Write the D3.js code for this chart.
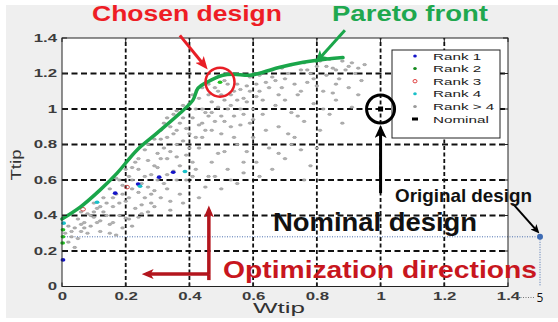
<!DOCTYPE html>
<html>
<head>
<meta charset="utf-8">
<script src="https://cdn.jsdelivr.net/npm/d3@7"></script>
<style>
  body { margin: 0; background: #fff; }
</style>
</head>
<body>
<div id="chart"></div>
<script>
// tick values
const xTicks = [0, 0.2, 0.4, 0.6, 0.8, 1, 1.2, 1.4];
const yTicks = [0, 0.2, 0.4, 0.6, 0.8, 1, 1.2, 1.4];

// pareto front (Wtip, Ttip)
const paretoW = [0, 0.057, 0.119, 0.173, 0.235, 0.298, 0.37, 0.411, 0.427, 0.455, 0.505, 0.537, 0.59, 0.631, 0.684, 0.757, 0.80, 0.882];
const paretoT = [0.38, 0.447, 0.543, 0.639, 0.768, 0.864, 0.976, 1.05, 1.117, 1.151, 1.19, 1.196, 1.19, 1.207, 1.235, 1.263, 1.275, 1.29];

// population, rank > 4
const rankOther = [
  [0.01,0.30],[0.02,0.34],[0.03,0.28],[0.02,0.25],[0.04,0.33],[0.05,0.38],[0.06,0.31],[0.07,0.36],
  [0.08,0.41],[0.09,0.34],[0.10,0.39],[0.11,0.44],[0.12,0.37],[0.13,0.42],[0.14,0.47],[0.05,0.27],
  [0.08,0.30],[0.12,0.31],[0.15,0.35],[0.04,0.22],[0.06,0.42],[0.10,0.47],[0.13,0.50],
  [0.16,0.45],[0.17,0.52],[0.18,0.40],[0.19,0.57],[0.20,0.48],[0.21,0.62],[0.22,0.55],[0.23,0.44],
  [0.24,0.66],[0.25,0.58],[0.26,0.50],[0.27,0.71],[0.28,0.63],[0.29,0.54],[0.30,0.75],[0.18,0.60],
  [0.21,0.38],[0.25,0.41],[0.20,0.66],[0.28,0.47],[0.26,0.77],[0.23,0.70],[0.19,0.33],[0.17,0.29],[0.30,0.67],
  [0.31,0.83],[0.32,0.58],[0.33,0.72],[0.34,0.90],[0.35,0.65],[0.36,0.80],[0.37,0.52],[0.38,0.95],
  [0.39,0.74],[0.40,0.86],[0.41,0.62],[0.42,1.00],[0.43,0.78],[0.44,0.92],[0.45,0.56],[0.32,0.92],
  [0.35,0.97],[0.40,1.03],[0.43,1.06],[0.37,0.68],[0.34,0.48],[0.41,0.70],[0.44,0.84],[0.36,0.88],
  [0.39,0.60],[0.33,0.63],[0.45,0.98],
  [0.46,1.08],[0.47,0.88],[0.48,1.12],[0.49,0.75],[0.50,0.96],[0.51,1.05],[0.52,0.66],[0.53,0.90],
  [0.54,1.10],[0.55,0.80],[0.56,1.00],[0.57,0.70],[0.58,1.13],[0.59,0.92],[0.60,0.84],[0.61,1.07],
  [0.62,0.62],[0.63,0.97],[0.64,1.15],[0.65,0.78],[0.47,0.98],[0.50,0.86],[0.53,1.02],[0.56,0.91],
  [0.60,1.00],[0.62,1.10],[0.48,0.62],[0.55,0.58],[0.58,0.76],[0.64,0.88],[0.52,1.14],[0.57,1.06],
  [0.66,1.18],[0.67,1.02],[0.68,0.90],[0.69,1.12],[0.70,0.72],[0.71,1.20],[0.72,0.98],[0.73,0.84],
  [0.74,1.08],[0.75,1.22],[0.76,0.93],[0.77,1.15],[0.78,0.68],[0.79,1.03],[0.80,1.24],[0.81,0.88],
  [0.82,1.10],[0.83,1.19],[0.84,0.97],[0.85,1.23],[0.86,1.05],[0.87,1.17],[0.88,0.92],[0.89,1.22],
  [0.90,1.12],[0.91,1.01],[0.92,1.20],[0.93,1.08],[0.70,1.05],[0.74,0.96],[0.78,1.20],[0.82,1.00],
  [0.86,1.14],[0.72,0.80],[0.76,0.60],[0.80,0.78],[0.94,1.16],[0.95,1.25],
  [0.15,0.55],[0.17,0.61],[0.22,0.67],[0.24,0.72],[0.27,0.80],[0.29,0.83],[0.31,0.88],[0.33,0.95],
  [0.36,0.99],[0.38,1.02],[0.41,1.08],[0.44,1.12],[0.46,1.14],[0.49,1.10],[0.51,1.16],[0.55,1.14],
  [0.59,1.18],[0.62,1.19],[0.66,1.22],[0.69,1.23],[0.72,1.25],[0.76,1.26],[0.81,1.27],[0.84,1.28],
  [0.88,1.27],[0.91,1.26],
  [0.15,0.30],[0.20,0.385],[0.24,0.39],[0.29,0.45],[0.34,0.43],[0.16,0.36],[0.22,0.34],[0.27,0.42],
  [0.31,0.50],[0.38,0.47],[0.43,0.50],[0.46,0.62],[0.50,0.55],[0.53,0.60],[0.57,0.64],[0.61,0.70],
  [0.66,0.66],[0.68,0.75],[0.71,0.86],[0.75,0.77],
  [0.06,0.35],[0.09,0.40],[0.11,0.36],[0.14,0.40],[0.16,0.50],[0.18,0.47],[0.19,0.52],[0.21,0.50],
  [0.22,0.60],[0.24,0.53],[0.26,0.62],[0.27,0.56],[0.29,0.68],[0.30,0.60],[0.31,0.72],[0.32,0.78],
  [0.33,0.84],[0.34,0.76],[0.35,0.86],[0.36,0.73],[0.37,0.92],[0.38,0.82],[0.39,0.89],[0.40,0.78],
  [0.41,0.95],[0.42,0.84],[0.43,0.91],[0.44,1.00],[0.45,0.88],[0.46,0.96],[0.47,1.04],[0.48,0.93],
  [0.49,1.01],[0.50,1.08],[0.51,0.93],[0.52,1.00],[0.53,1.08],[0.54,0.96],[0.55,1.05],[0.56,1.11],
  [0.57,0.97],[0.58,1.04],[0.59,1.10],[0.60,0.94],[0.61,1.14],[0.63,1.05],[0.65,1.12],[0.67,1.16],
  [0.68,1.08],[0.70,1.17],[0.73,1.14],[0.75,1.10],[0.77,1.22],[0.79,1.17],[0.83,1.24],[0.86,1.22],
  [0.90,1.24],[0.93,1.23],[0.80,1.13],[0.85,1.09],[0.25,0.46],[0.28,0.52],[0.33,0.55],[0.36,0.60],
  [0.42,0.66],[0.47,0.70],[0.51,0.76],[0.54,0.84],[0.03,0.31],[0.07,0.33],[0.10,0.42],[0.12,0.45]
];
const rank1 = [[0.003,0.15],[0.167,0.526],[0.239,0.577],[0.305,0.616],[0.349,0.644]];
const rank2 = [[0.003,0.32],[0.003,0.28],[0.002,0.245],[0.496,1.151]];
const rank3 = [[0.066,0.435],[0.204,0.56]];
const rank4 = [[0.005,0.357],[0.11,0.475],[0.245,0.565],[0.386,0.648]];

const nominal = [1, 1];
const chosen = [0.496, 1.151];
const original = [5, 0.28];

const legendLabels = ["Rank 1", "Rank 2", "Rank 3", "Rank 4", "Rank > 4", "Nominal"];
const legendColors = ["#1414c8", "#138a1e", "#e04040", "#18c0c8", "#9a9a9a", "#000"];

const W = 558, H = 322;
const svg = d3.select("#chart").append("svg").attr("width", W).attr("height", H);

svg.append("rect").attr("width", W).attr("height", H).attr("fill", "#fff");
svg.append("rect").attr("x", 6).attr("y", 5).attr("width", W - 6).attr("height", 313).attr("fill", "#efefef");

const x = d3.scaleLinear().domain([0, 1.4]).range([62, 508]);
const y = d3.scaleLinear().domain([0, 1.4]).range([286.5, 38]);
// broken axis out to the original design at W = 5
const xExt = d3.scaleLinear().domain([0, 1.4, 5]).range([62, 508, 540]);

const stretch = (sel, k) => sel.each(function () {
  const w = this.getComputedTextLength();
  d3.select(this).attr("textLength", w * k).attr("lengthAdjust", "spacingAndGlyphs");
});

// plot area
svg.append("rect")
  .attr("x", x(0)).attr("y", y(1.4))
  .attr("width", x(1.4) - x(0)).attr("height", y(0) - y(1.4))
  .attr("fill", "#fff");

// grid
svg.append("g").selectAll("line").data(xTicks.slice(1, -1)).join("line")
  .attr("x1", d => x(d)).attr("x2", d => x(d))
  .attr("y1", y(0)).attr("y2", y(1.4))
  .attr("stroke", "#111").attr("stroke-width", 1.8).attr("stroke-dasharray", "4,2.5");
svg.append("g").selectAll("line").data(yTicks.slice(1, -1)).join("line")
  .attr("x1", x(0)).attr("x2", x(1.4))
  .attr("y1", d => y(d)).attr("y2", d => y(d))
  .attr("stroke", "#111").attr("stroke-width", 1.8).attr("stroke-dasharray", "6,3.5");

// original design guides (dotted)
svg.append("line")
  .attr("x1", x(0)).attr("x2", xExt(original[0]))
  .attr("y1", y(original[1])).attr("y2", y(original[1]))
  .attr("stroke", "#4a70b0").attr("stroke-width", 1).attr("stroke-dasharray", "1,1.5");
svg.append("line")
  .attr("x1", xExt(original[0])).attr("x2", xExt(original[0]))
  .attr("y1", y(original[1])).attr("y2", y(0) - 1)
  .attr("stroke", "#4a70b0").attr("stroke-width", 1).attr("stroke-dasharray", "1,1.5");

// population
svg.append("g").selectAll("ellipse").data(rankOther).join("ellipse")
  .attr("cx", d => x(d[0])).attr("cy", d => y(d[1]))
  .attr("rx", 1.9).attr("ry", 1.1)
  .attr("fill", "#b4b4b4").attr("stroke", "#8e8e8e").attr("stroke-width", 0.6);

const dots = (data, color) => svg.append("g").selectAll("ellipse").data(data).join("ellipse")
  .attr("cx", d => x(d[0])).attr("cy", d => y(d[1]))
  .attr("rx", 2.4).attr("ry", 1.8).attr("fill", color);
dots(rank1, legendColors[0]);
dots(rank2, "#22c022");
dots(rank4, legendColors[3]);
svg.append("g").selectAll("ellipse").data(rank3).join("ellipse")
  .attr("cx", d => x(d[0])).attr("cy", d => y(d[1]))
  .attr("rx", 2.4).attr("ry", 1.8).attr("fill", "none")
  .attr("stroke", "#d04848").attr("stroke-width", 1);

// pareto front
svg.append("path")
  .datum(paretoW.map((w, i) => [w, paretoT[i]]))
  .attr("d", d3.line().x(d => x(d[0])).y(d => y(d[1])).curve(d3.curveCatmullRom))
  .attr("fill", "none").attr("stroke", "#1aa64a").attr("stroke-width", 3.5)
  .attr("stroke-linecap", "round");

// box and inward ticks
svg.append("rect")
  .attr("x", x(0)).attr("y", y(1.4))
  .attr("width", x(1.4) - x(0)).attr("height", y(0) - y(1.4))
  .attr("fill", "none").attr("stroke", "#222").attr("stroke-width", 1);
const tk = svg.append("g").attr("stroke", "#222").attr("stroke-width", 1);
xTicks.forEach(t => {
  tk.append("line").attr("x1", x(t)).attr("x2", x(t)).attr("y1", y(0)).attr("y2", y(0) - 4);
  tk.append("line").attr("x1", x(t)).attr("x2", x(t)).attr("y1", y(1.4)).attr("y2", y(1.4) + 4);
});
yTicks.forEach(t => {
  tk.append("line").attr("x1", x(0)).attr("x2", x(0) + 5).attr("y1", y(t)).attr("y2", y(t));
  tk.append("line").attr("x1", x(1.4)).attr("x2", x(1.4) - 5).attr("y1", y(t)).attr("y2", y(t));
});

// tick labels
const axisFont = "'Liberation Sans', Arial, sans-serif";
const gx = svg.append("g").attr("transform", `translate(0,${y(0)})`)
  .call(d3.axisBottom(x).tickValues(xTicks).tickSize(0).tickPadding(6).tickFormat(d => String(d)));
const gy = svg.append("g").attr("transform", `translate(${x(0)},0)`)
  .call(d3.axisLeft(y).tickValues(yTicks).tickSize(0).tickPadding(5).tickFormat(d => String(d)));
[gx, gy].forEach(g => {
  g.select(".domain").remove();
  g.selectAll("text").attr("font-family", axisFont).attr("font-size", 10.5)
    .attr("font-weight", "bold").attr("fill", "#3c3c3c");
  stretch(g.selectAll("text"), 1.6);
});

// broken axis end "···· 5"
svg.append("line")
  .attr("x1", 518).attr("x2", 534).attr("y1", y(0) + 11).attr("y2", y(0) + 11)
  .attr("stroke", "#777").attr("stroke-width", 1).attr("stroke-dasharray", "1,1.5");
svg.append("text")
  .attr("x", xExt(original[0])).attr("y", y(0) + 15.5)
  .attr("text-anchor", "middle")
  .attr("font-family", "'Open Sans', sans-serif").attr("font-size", 12).attr("fill", "#111")
  .text("5");

// axis titles
svg.append("text")
  .attr("x", 279).attr("y", 313).attr("text-anchor", "middle")
  .attr("font-family", axisFont).attr("font-size", 14.5).attr("fill", "#333")
  .attr("textLength", 52).attr("lengthAdjust", "spacingAndGlyphs")
  .text("Wtip");
svg.append("text")
  .attr("transform", "translate(21,165) rotate(-90)").attr("text-anchor", "middle")
  .attr("font-family", axisFont).attr("font-size", 14).attr("fill", "#333")
  .attr("textLength", 31).attr("lengthAdjust", "spacingAndGlyphs")
  .text("Ttip");

// legend
const lg = svg.append("g");
lg.append("rect").attr("x", 392).attr("y", 50).attr("width", 108).attr("height", 88)
  .attr("fill", "#fff").attr("stroke", "#222").attr("stroke-width", 1);
const ly = d3.scaleLinear().domain([0, 5]).range([56, 119]);
legendLabels.forEach((lab, i) => {
  if (i === 2) {
    lg.append("ellipse").attr("cx", 415).attr("cy", ly(i)).attr("rx", 2).attr("ry", 1.7)
      .attr("fill", "none").attr("stroke", legendColors[i]).attr("stroke-width", 1);
  } else if (i === 5) {
    lg.append("rect").attr("x", 412).attr("y", ly(i) - 1.5).attr("width", 6).attr("height", 3).attr("fill", "#000");
  } else {
    lg.append("ellipse").attr("cx", 415).attr("cy", ly(i)).attr("rx", 1.8).attr("ry", 1.5).attr("fill", legendColors[i]);
  }
  lg.append("text").attr("x", 433).attr("y", ly(i) + 3.5)
    .attr("font-family", axisFont).attr("font-size", 9.5).attr("fill", "#222")
    .text(lab);
});
stretch(lg.selectAll("text"), 1.6);

// nominal point with circle
svg.append("rect").attr("x", x(nominal[0]) - 2.5).attr("y", y(nominal[1]) - 2.5)
  .attr("width", 5).attr("height", 5).attr("fill", "#000");
svg.append("circle").attr("cx", x(nominal[0])).attr("cy", y(nominal[1])).attr("r", 14)
  .attr("fill", "none").attr("stroke", "#000").attr("stroke-width", 3);

// chosen design circle
svg.append("circle").attr("cx", x(chosen[0])).attr("cy", y(chosen[1])).attr("r", 14.5)
  .attr("fill", "none").attr("stroke", "#e81e26").attr("stroke-width", 2.5);

// original design point
svg.append("circle").attr("cx", xExt(original[0])).attr("cy", y(original[1])).attr("r", 3)
  .attr("fill", "#3f6cb4");

// arrow markers
const defs = svg.append("defs");
const marker = (id, color, len, wid) => defs.append("marker")
  .attr("id", id).attr("markerUnits", "userSpaceOnUse")
  .attr("viewBox", `0 0 ${len} ${wid}`)
  .attr("markerWidth", len).attr("markerHeight", wid)
  .attr("refX", len * 0.6).attr("refY", wid / 2).attr("orient", "auto")
  .append("path")
  .attr("d", `M0,0 L${len},${wid / 2} L0,${wid} L${len * 0.25},${wid / 2} Z`)
  .attr("fill", color);
marker("arRed", "#e81e26", 13, 11);
marker("arGreen", "#1aa64a", 13, 11);
marker("arBlack", "#000", 13, 12);
marker("arDark", "#b3151d", 12, 10);
marker("arSmall", "#000", 9, 8);

const arrow = (x1, y1, x2, y2, color, w, m) => svg.append("line")
  .attr("x1", x1).attr("y1", y1).attr("x2", x2).attr("y2", y2)
  .attr("stroke", color).attr("stroke-width", w).attr("marker-end", `url(#${m})`);

arrow(x(0.37), y(1.415), x(0.447), y(1.245), "#e81e26", 3, "arRed");
arrow(x(0.888), y(1.444), x(0.806), y(1.28), "#1aa64a", 3, "arGreen");
arrow(x(1), y(0.526), x(1), y(0.88), "#000", 3, "arBlack");
// optimization directions
svg.append("line").attr("x1", x(0.461)).attr("x2", x(0.461)).attr("y1", y(0.036)).attr("y2", y(0.07))
  .attr("stroke", "#b3151d").attr("stroke-width", 3.5);
arrow(x(0.461), y(0.07), x(0.461), y(0.43), "#b3151d", 3.5, "arDark");
arrow(x(0.461), y(0.07), x(0.265), y(0.07), "#b3151d", 3.5, "arDark");
// original design arrow
arrow(xExt(original[0]) - 27, y(original[1]) - 33, xExt(original[0]) - 3, y(original[1]) - 6, "#000", 2, "arSmall");

// annotation texts
const note = (txt, tx, ty, size, len, color) => svg.append("text")
  .attr("x", tx).attr("y", ty)
  .attr("font-family", "'Liberation Sans', Arial, sans-serif").attr("font-weight", "bold")
  .attr("font-size", size).attr("fill", color)
  .attr("textLength", len).attr("lengthAdjust", "spacingAndGlyphs")
  .text(txt);
note("Chosen design", 92, 21, 21.5, 190, "#ee1d25");
note("Pareto front", 332, 20.5, 21.5, 156, "#1fa84f");
note("Nominal design", 273, 231, 26.5, 204, "#111");
note("Optimization directions", 223, 278, 24.5, 314, "#c8161e");
note("Original design", 395, 202, 18.5, 137, "#111");
</script>
</body>
</html>
